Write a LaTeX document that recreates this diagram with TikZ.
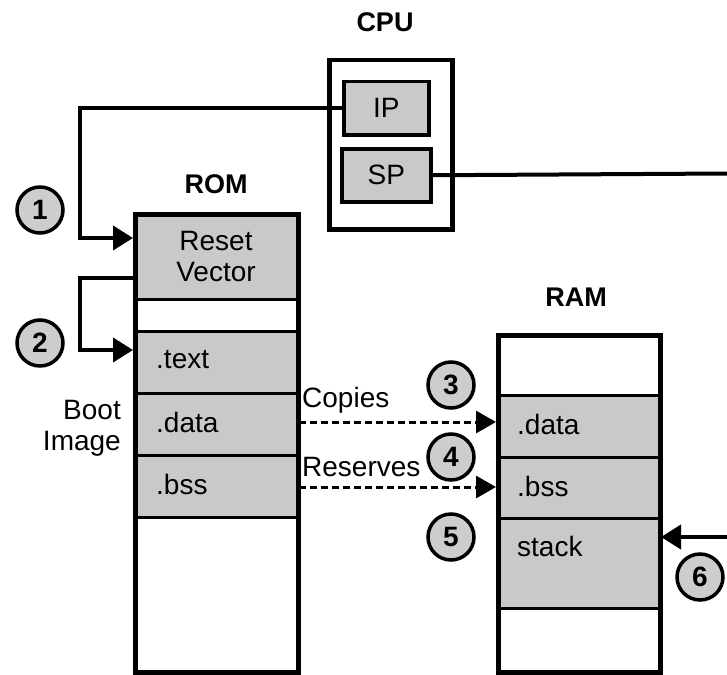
\documentclass[tikz,border=0pt]{standalone}
\usepackage{fontspec}
\setmainfont{Liberation Sans}
\usetikzlibrary{arrows.meta}
\definecolor{segfill}{HTML}{C9C9C9}
\definecolor{numfill}{HTML}{CDCDCD}
\begin{document}
\begin{tikzpicture}[x=1pt,y=-1pt,
  seg/.style={draw, line width=3pt, fill=segfill, inner sep=0pt, anchor=north west},
  blank/.style={draw, line width=3pt, fill=white, inner sep=0pt, anchor=north west},
  outer/.style={draw, line width=4.5pt, inner sep=0pt, anchor=north west},
  reg/.style={draw, line width=3.5pt, fill=segfill, inner sep=0pt, anchor=north west, font=\fontsize{28}{30}\selectfont},
  lbl/.style={inner sep=0pt, font=\fontsize{28}{31}\selectfont},
  title/.style={inner sep=0pt, font=\bfseries\fontsize{27}{30}\selectfont},
  num/.style={circle, draw, line width=3.5pt, fill=numfill, minimum size=46pt, inner sep=0pt, font=\bfseries\fontsize{28}{28}\selectfont},
  conn/.style={line width=4pt, -{Triangle[length=20pt,width=24pt]}},
  plain/.style={line width=4pt},
  dasharrow/.style={line width=3pt, dash pattern=on 7pt off 4pt, -{Triangle[length=20pt,width=22pt]}}
]
\useasboundingbox (0,0) rectangle (727,674);
\clip (0,0) rectangle (727,674);

% CPU
\node[title] (cputitle) at (385,22) {CPU};
\node[outer, minimum width=123pt, minimum height=169pt] (cpu) at (327,58) {};
\node[reg, minimum width=85pt, minimum height=53pt] (ip) at (342,80) {IP};
\node[reg, minimum width=89pt, minimum height=53pt] (sp) at (340,147) {SP};

% ROM
\node[title] (romtitle) at (216,184) {ROM};
\node[seg, minimum width=163pt, minimum height=86pt] (rv) at (133,212) {};
\node[lbl, align=center] (rvtext) at (rv.center) {Reset\\Vector};
\node[blank, minimum width=163pt, minimum height=32pt] (rb1) at (133,298) {};
\node[seg, minimum width=163pt, minimum height=62pt] (rtext) at (133,330) {};
\node[seg, minimum width=163pt, minimum height=62pt] (rdata) at (133,392) {};
\node[seg, minimum width=163pt, minimum height=62pt] (rbss) at (133,454) {};
\node[blank, minimum width=163pt, minimum height=154pt] (rb2) at (133,516) {};
\node[outer, minimum width=163pt, minimum height=458pt] (rom) at (133,212) {};
\node[lbl, anchor=west] (t1) at (156,360) {.text};
\node[lbl, anchor=west] (t2) at (156,422) {.data};
\node[lbl, anchor=west] (t3) at (156,484) {.bss};
\node[lbl, align=right, anchor=east] (boot) at (121,428) {Boot\\Image};

% RAM
\node[title] (ramtitle) at (576,297) {RAM};
\node[blank, minimum width=162pt, minimum height=61pt] (mb1) at (496,333) {};
\node[seg, minimum width=162pt, minimum height=62pt] (mdata) at (496,394) {};
\node[seg, minimum width=162pt, minimum height=61pt] (mbss) at (496,456) {};
\node[seg, minimum width=162pt, minimum height=90pt] (mstack) at (496,517) {};
\node[blank, minimum width=162pt, minimum height=63pt] (mb2) at (496,607) {};
\node[outer, minimum width=162pt, minimum height=337pt] (ram) at (496,333) {};
\node[lbl, anchor=west] (m1) at (517,424) {.data};
\node[lbl, anchor=west] (m2) at (517,486) {.bss};
\node[lbl, anchor=west] (m3) at (517,546) {stack};

% connectors
\coordinate (edgeSP) at (727,173.5);
\coordinate (edge6) at (727,537);
\draw[conn] (ip.west) -| (80,238) -- (rv.west |- 80,238);
\draw[conn] (rv.west |- 0,278) -| (80,350) -- (rtext.west |- 0,350);
\draw[plain] (sp.east) -- (edgeSP);
\draw[conn] (edge6) -- (mstack.east |- edge6);
\draw[dasharrow] (rdata.east |- 0,422) -- (mdata.west |- 0,422);
\draw[dasharrow] (rbss.east |- 0,487) -- (mbss.west |- 0,487);
\node[lbl, anchor=west] (copies) at (302,400) {Copies};
\node[lbl, anchor=west] (reserves) at (302,467) {Reserves};

% numbers
\node[num] (n1) at (40,210) {1};
\node[num] (n2) at (40,343) {2};
\node[num] (n3) at (451,385) {3};
\node[num] (n4) at (451,457) {4};
\node[num] (n5) at (451,537) {5};
\node[num] (n6) at (700,577) {6};
\end{tikzpicture}
\end{document}
